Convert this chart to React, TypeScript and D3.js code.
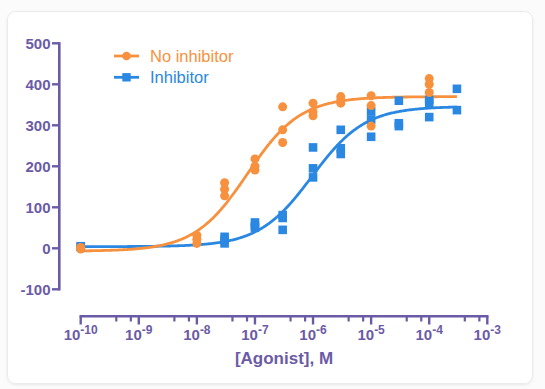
import React from "react";
import * as d3 from "d3";

// ---- data ----
const noInhConc = [1e-10, 1e-10, 1e-8, 1e-8, 1e-8, 3e-8, 3e-8, 3e-8, 1e-7, 1e-7, 1e-7, 3e-7, 3e-7, 3e-7, 1e-6, 1e-6, 1e-6, 3e-6, 3e-6, 3e-6, 1e-5, 1e-5, 1e-5, 1e-4, 1e-4, 1e-4];
const noInhVals = [-2, 2, 32, 22, 12, 160, 144, 128, 218, 200, 191, 345, 289, 258, 354, 333, 323, 370, 362, 354, 372, 348, 298, 414, 400, 380];

const inhConc = [1e-10, 1e-10, 3e-8, 3e-8, 3e-8, 1e-7, 1e-7, 1e-7, 3e-7, 3e-7, 3e-7, 1e-6, 1e-6, 1e-6, 3e-6, 3e-6, 3e-6, 1e-5, 1e-5, 1e-5, 3e-5, 3e-5, 3e-5, 1e-4, 1e-4, 1e-4, 3e-4, 3e-4];
const inhVals = [5, 3, 28, 20, 12, 63, 55, 50, 81, 74, 45, 246, 195, 173, 289, 244, 230, 334, 314, 272, 360, 305, 298, 362, 354, 320, 389, 337];

// fitted 4PL parameters: [bottom, top, logEC50, hill]
const noInhFit = [-7, 370, -7.13, 0.95];
const inhFit = [4, 346, -6.02, 0.95];

const seriesNames = ["No inhibitor", "Inhibitor"];
const yTicks = [-100, 0, 100, 200, 300, 400, 500];
const xMajorExp = [-10, -9, -8, -7, -6, -5, -4, -3];
const minorMult = [4.1, 7.3];
const xTitle = "[Agonist], M";

const ORANGE = "#F7913E";
const BLUE = "#2B88E2";
const PURPLE = "#6B5BA6";

export default function App() {
  const W = 545, H = 389;
  const x = d3.scaleLog().domain([1e-10, 1e-3]).range([80.7, 487.3]);
  const y = d3.scaleLinear().domain([-100, 500]).range([289.3, 43.3]);

  const fourPL = (p: number[], c: number) =>
    p[0] + (p[1] - p[0]) / (1 + Math.pow(10, (p[2] - Math.log10(c)) * p[3]));

  const curveXs = d3.range(0, 401).map((i) => Math.pow(10, -10 + (i / 400) * (Math.log10(3e-4) + 10)));
  const mkPath = (p: number[]) =>
    d3.line<number>().x((c) => x(c)).y((c) => y(fourPL(p, c)))(curveXs) || "";

  const minorTicks: number[] = [];
  for (let e = -10; e < -3; e++) minorMult.forEach((m) => minorTicks.push(m * Math.pow(10, e)));

  const axisX = 59.3;
  const axisY = 316.3;
  const font = "'Liberation Sans', Arial, Helvetica, sans-serif";

  return (
    <svg width={W} height={H} style={{ position: "absolute", left: 0, top: 0, background: "#fbfbfb" }} fontFamily={font}>
      <defs>
        <filter id="sh" x="-5%" y="-5%" width="110%" height="110%">
          <feDropShadow dx="0" dy="1" stdDeviation="1.2" floodColor="#000" floodOpacity="0.08" />
        </filter>
      </defs>
      <rect x={7.5} y={11.5} width={525} height={372} rx={8} fill="#fff" stroke="#ebebeb" strokeWidth={1} filter="url(#sh)" />

      {/* y axis */}
      <line x1={axisX} x2={axisX} y1={y(500) - 1.2} y2={y(-100) + 1.2} stroke={PURPLE} strokeWidth={2.6} />
      {yTicks.map((t) => (
        <g key={t}>
          <line x1={52} x2={axisX} y1={y(t)} y2={y(t)} stroke={PURPLE} strokeWidth={2.4} />
          <text x={50.5} y={y(t)} dy="0.36em" textAnchor="end" fontSize={15} fontWeight="bold" fill={PURPLE}>
            {t}
          </text>
        </g>
      ))}

      {/* x axis */}
      <line x1={x(1e-10) - 1.2} x2={x(1e-3) + 1.2} y1={axisY} y2={axisY} stroke={PURPLE} strokeWidth={2.6} />
      {minorTicks.map((t, i) => (
        <line key={"m" + i} x1={x(t)} x2={x(t)} y1={axisY} y2={321.5} stroke={PURPLE} strokeWidth={2.2} />
      ))}
      {xMajorExp.map((e) => (
        <g key={e}>
          <line x1={x(Math.pow(10, e))} x2={x(Math.pow(10, e))} y1={axisY} y2={324.5} stroke={PURPLE} strokeWidth={2.4} />
          <text x={x(Math.pow(10, e))} y={339.5} textAnchor="middle" fontWeight="bold" fill={PURPLE} fontSize={15}>
            <tspan>10</tspan>
            <tspan fontSize={12} dy={-5.5}>{e}</tspan>
          </text>
        </g>
      ))}
      <text x={284} y={363.5} textAnchor="middle" fontSize={17} fontWeight="bold" fill={PURPLE}>
        {xTitle}
      </text>

      {/* curves */}
      <path d={mkPath(inhFit)} fill="none" stroke={BLUE} strokeWidth={2.8} />
      <path d={mkPath(noInhFit)} fill="none" stroke={ORANGE} strokeWidth={2.8} />

      {/* points */}
      {inhConc.map((c, i) => (
        <rect key={"b" + i} x={x(c) - 4.3} y={y(inhVals[i]) - 4.3} width={8.6} height={8.6} fill={BLUE} />
      ))}
      {noInhConc.map((c, i) => (
        <circle key={"o" + i} cx={x(c)} cy={y(noInhVals[i])} r={4.5} fill={ORANGE} />
      ))}

      {/* legend */}
      <line x1={114} x2={139} y1={56} y2={56} stroke={ORANGE} strokeWidth={2.8} />
      <circle cx={126.5} cy={56} r={4.3} fill={ORANGE} />
      <text x={150} y={62} fontSize={16.5} fill={ORANGE}>{seriesNames[0]}</text>
      <line x1={114} x2={139} y1={77.3} y2={77.3} stroke={BLUE} strokeWidth={2.8} />
      <rect x={126.5 - 4.2} y={77.3 - 4.2} width={8.4} height={8.4} fill={BLUE} />
      <text x={150} y={83.2} fontSize={16.5} fill={BLUE}>{seriesNames[1]}</text>
    </svg>
  );
}
